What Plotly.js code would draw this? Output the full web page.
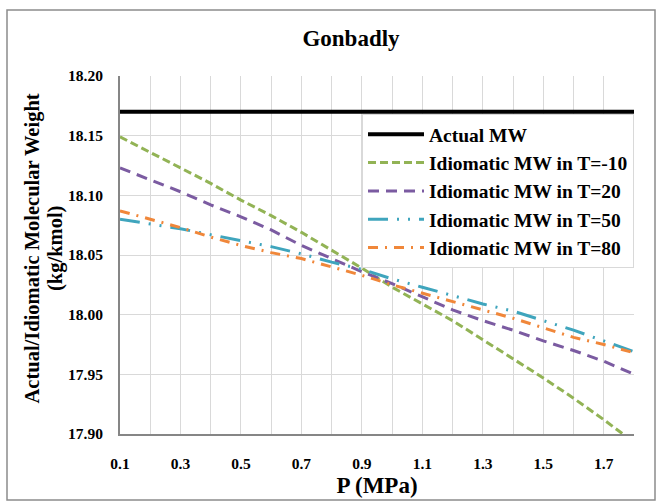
<!DOCTYPE html>
<html>
<head>
<meta charset="utf-8">
<script src="https://cdn.plot.ly/plotly-3.0.1.min.js"></script>
<style>html,body{margin:0;padding:0;background:#fff;}#chart{width:661px;height:502px;}</style>
</head>
<body>
<div id="chart"></div>
<script>
// Pressure (MPa)
var pressure = [0.1, 0.2, 0.3, 0.4, 0.5, 0.6, 0.7, 0.8, 0.9, 1.0, 1.1, 1.2, 1.3, 1.4, 1.5, 1.6, 1.7, 1.8];
// Actual molecular weight (kg/kmol)
var actualMW = [18.17, 18.17, 18.17, 18.17, 18.17, 18.17, 18.17, 18.17, 18.17, 18.17, 18.17, 18.17, 18.17, 18.17, 18.17, 18.17, 18.17, 18.17];
// Idiomatic MW at different temperatures
var mwTm10 = [18.149, 18.136, 18.123, 18.110, 18.096, 18.083, 18.069, 18.054, 18.039, 18.023, 18.009, 17.995, 17.979, 17.963, 17.947, 17.930, 17.912, 17.893];
var mwT20  = [18.123, 18.113, 18.103, 18.092, 18.082, 18.071, 18.058, 18.047, 18.036, 18.026, 18.015, 18.004, 17.995, 17.987, 17.978, 17.970, 17.961, 17.950];
var mwT50  = [18.080, 18.076, 18.072, 18.067, 18.062, 18.057, 18.051, 18.044, 18.038, 18.030, 18.023, 18.016, 18.009, 18.003, 17.995, 17.987, 17.978, 17.969];
var mwT80  = [18.087, 18.080, 18.073, 18.065, 18.058, 18.052, 18.047, 18.040, 18.033, 18.025, 18.018, 18.011, 18.004, 17.997, 17.989, 17.981, 17.975, 17.968];
var seriesNames = ['Actual MW', 'Idiomatic MW in T=-10', 'Idiomatic MW in T=20', 'Idiomatic MW in T=50', 'Idiomatic MW in T=80'];
var xTickVals = [0.1, 0.3, 0.5, 0.7, 0.9, 1.1, 1.3, 1.5, 1.7];
var xTickText = ['0.1', '0.3', '0.5', '0.7', '0.9', '1.1', '1.3', '1.5', '1.7'];
var yTickVals = [17.90, 17.95, 18.00, 18.05, 18.10, 18.15, 18.20];
var yTickText = ['17.90', '17.95', '18.00', '18.05', '18.10', '18.15', '18.20'];
var yTitleLines = ['Actual/Idiomatic Molecular Weight', '(kg/kmol)'];

var FONT = 'Liberation Serif, Times New Roman, serif';

var traces = [
  {x: pressure, y: actualMW, name: seriesNames[0], mode: 'lines', legendgroup: 'a',
   line: {color: '#000000', width: 4}},
  {x: pressure, y: mwTm10, name: seriesNames[1], mode: 'lines', legendgroup: 'b',
   line: {color: '#92b355', width: 3, dash: '8px,4px'}},
  {x: pressure, y: mwT20, name: seriesNames[2], mode: 'lines', legendgroup: 'c',
   line: {color: '#7b5ba1', width: 3, dash: '11px,7px'}},
  {x: pressure, y: mwT50, name: seriesNames[3], mode: 'lines', legendgroup: 'd',
   line: {color: '#3fa5bd', width: 3, dash: '20px,9px,2px,9px,2px,9px'}},
  {x: pressure, y: mwT80, name: seriesNames[4], mode: 'lines', legendgroup: 'e',
   line: {color: '#f0873a', width: 3, dash: '10px,7px,2px,7px'}}
];

var L = 120, R = 634, T = 76, B = 434;
var W = R - L, H = B - T;
function px(x){ return (x - L) / W; }
function py(y){ return (B - y) / H; }

var layout = {
  width: 661, height: 502,
  margin: {l: L, r: 661 - R, t: T, b: 502 - B, pad: 0},
  paper_bgcolor: '#ffffff', plot_bgcolor: '#ffffff',
  font: {family: FONT, color: '#000000'},
  title: {text: '<b>Gonbadly</b>', font: {family: FONT, size: 23, color: '#000'},
          x: 351 / 661, xanchor: 'center', xref: 'container', y: 1 - 38 / 502, yanchor: 'middle', yref: 'container'},
  showlegend: true,
  legend: {x: px(362), y: py(114), xanchor: 'left', yanchor: 'top',
           bgcolor: '#ffffff', bordercolor: '#d9d9d9', borderwidth: 1,
           font: {family: FONT, size: 19.5, color: '#000', weight: 'bold'}, tracegroupgap: 3,
           itemwidth: 56, traceorder: 'normal'},
  xaxis: {
    range: [0.1, 1.8], tickmode: 'array', tickvals: xTickVals, ticktext: xTickText,
    tickfont: {family: FONT, size: 15.5, color: '#000', weight: 'bold'},
    ticks: '', ticklabelstandoff: 14,
    showgrid: true, gridcolor: '#d9d9d9', gridwidth: 1,
    minor: {tick0: 0.1, dtick: 0.1, showgrid: true, gridcolor: '#d9d9d9', gridwidth: 1, ticks: ''},
    showline: true, linecolor: '#868686', linewidth: 2, zeroline: false, mirror: false,
    title: {text: '<b>P (MPa)</b>', font: {family: FONT, size: 23, color: '#000'}, standoff: 6}
  },
  yaxis: {
    range: [17.90, 18.20], tickmode: 'array', tickvals: yTickVals, ticktext: yTickText,
    tickfont: {family: FONT, size: 15.5, color: '#000', weight: 'bold'},
    ticks: '', ticklabelstandoff: 12,
    showgrid: true, gridcolor: '#d9d9d9', gridwidth: 1,
    showline: true, linecolor: '#868686', linewidth: 2, zeroline: false, mirror: false
  },
  annotations: [
    {text: '<b>' + yTitleLines[0] + '</b>', xref: 'paper', yref: 'paper', x: px(31.5), y: py(249),
     xanchor: 'center', yanchor: 'middle', textangle: -90, showarrow: false,
     font: {family: FONT, size: 20.5, color: '#000'}},
    {text: '<b>' + yTitleLines[1] + '</b>', xref: 'paper', yref: 'paper', x: px(55), y: py(249),
     xanchor: 'center', yanchor: 'middle', textangle: -90, showarrow: false,
     font: {family: FONT, size: 20.5, color: '#000'}}
  ],
  shapes: [
    {type: 'rect', xref: 'paper', yref: 'paper', x0: px(7), x1: px(655), y0: py(500), y1: py(10),
     line: {color: '#8c8c8c', width: 1.5}, fillcolor: 'rgba(0,0,0,0)', layer: 'below'}
  ]
};

Plotly.newPlot('chart', traces, layout, {displayModeBar: false, staticPlot: true});
</script>
</body>
</html>
